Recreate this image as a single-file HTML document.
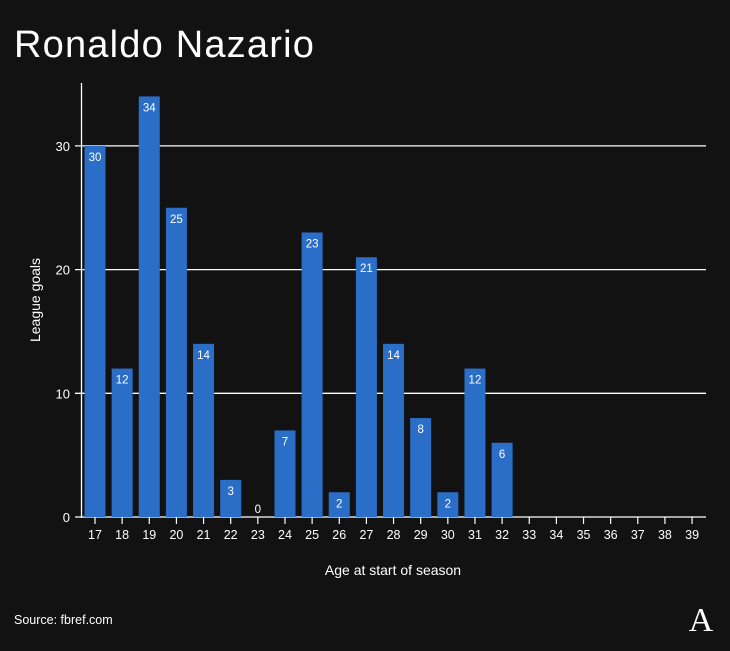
<!DOCTYPE html>
<html><head><meta charset="utf-8"><style>
body{margin:0;background:#121212;width:730px;height:651px;overflow:hidden;font-family:"Liberation Sans",sans-serif}
svg{display:block}
</style></head><body>
<svg width="730" height="651">
<rect width="730" height="651" fill="#121212"/>
<text x="14" y="57" fill="#fff" font-size="38" letter-spacing="1.2">Ronaldo Nazario</text>
<g id="grid"></g><g id="bars"></g><g id="axes"></g>
<text x="40" y="300" fill="#fff" font-size="14" text-anchor="middle" transform="rotate(-90 40 300)">League goals</text>
<text x="393" y="575" fill="#fff" font-size="14" text-anchor="middle">Age at start of season</text>
<text x="14" y="624" fill="#fff" font-size="12.5">Source: fbref.com</text>
<text x="701" y="631" fill="#fff" font-size="34" font-family="Liberation Serif,serif" text-anchor="middle">A</text>
</svg>
<script>
const ages=[17,18,19,20,21,22,23,24,25,26,27,28,29,30,31,32,33,34,35,36,37,38,39];
const goals=[30,12,34,25,14,3,0,7,23,2,21,14,8,2,12,6,null,null,null,null,null,null,null];
const yTicks=[0,10,20,30];
const NS="http://www.w3.org/2000/svg";
const y=v=>517-v*12.37;
const x=i=>95+i*27.14;
function mk(tag,attrs,parent){const e=document.createElementNS(NS,tag);for(const k in attrs)e.setAttribute(k,attrs[k]);parent.appendChild(e);return e;}
const grid=document.getElementById('grid'),bars=document.getElementById('bars'),axes=document.getElementById('axes');
yTicks.forEach(t=>{
 const l=mk('line',{x1:75,x2:706,y1:y(t),y2:y(t),stroke:'#fff','stroke-width':1.3},grid);
 
 
 const tx=mk('text',{x:70,y:y(t)+5,fill:'#fff','font-size':13,'text-anchor':'end'},axes);
 tx.textContent=t;
 
 
});
const ya=mk('line',{x1:81.5,x2:81.5,y1:83,y2:518,stroke:'#fff','stroke-width':1.3},axes);


ages.forEach((a,i)=>{
 const tk=mk('line',{x1:x(i),x2:x(i),y1:517,y2:524,stroke:'#fff','stroke-width':1.2},axes);
 
 
 const tx=mk('text',{x:x(i),y:539,fill:'#fff','font-size':12.5,'text-anchor':'middle'},axes);
 tx.textContent=a;
 
 
 const g=goals[i];
 if(g===null)return;
 if(g>0){
  const r=mk('rect',{x:x(i)-10.5,y:y(g),width:21,height:517-y(g),fill:'#2a6ec8'},bars);
  
  
 }
 const lb=mk('text',{x:x(i),y:g>0?y(g)+15:513,fill:'#fff','font-size':11.5,'text-anchor':'middle'},bars);
 lb.textContent=g;
 
 
});
</script>
</body></html>
